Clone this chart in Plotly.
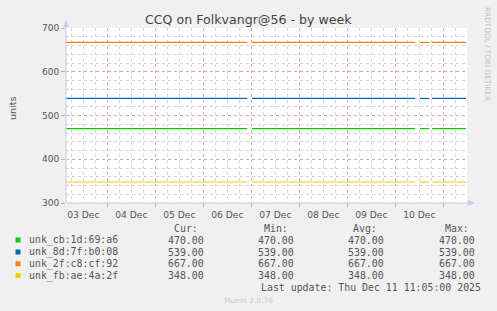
import plotly.graph_objects as go
from datetime import datetime

# ---------------- data ----------------
series_names = ["unk_cb:1d:69:a6", "unk_8d:7f:b0:08", "unk_2f:c8:cf:92", "unk_fb:ae:4a:2f"]
series_values = [470.0, 539.0, 667.0, 348.0]
cur_vals = [470.00, 539.00, 667.00, 348.00]
min_vals = [470.00, 539.00, 667.00, 348.00]
avg_vals = [470.00, 539.00, 667.00, 348.00]
max_vals = [470.00, 539.00, 667.00, 348.00]
series_colors = ["#00cc00", "#0066b3", "#ff8000", "#ffcc00"]

# continuous data segments (gaps in between)
seg_starts = ["2025-12-03 03:20", "2025-12-07 00:20", "2025-12-10 12:20", "2025-12-10 18:20"]
seg_ends = ["2025-12-06 21:50", "2025-12-10 09:50", "2025-12-10 17:00", "2025-12-11 11:20"]

x_start = "2025-12-03 03:20"
x_end = "2025-12-11 11:50"
y_min, y_max = 300, 700

title = "CCQ on Folkvangr@56 - by week"
y_title = "units"
last_update = "Last update: Thu Dec 11 11:05:00 2025"
side_text = "RRDTOOL / TOBI OETIKER"
footer = "Munin 2.0.76"

# ---------------- layout helpers ----------------
W, H = 497, 311
L, R, T, B = 66, 467, 28, 203


def fx(px):
    return (px - L) / (R - L)


def fy(py):
    return (B - py) / (B - T)


fig = go.Figure()

for name, val, col in zip(series_names, series_values, series_colors):
    xs, ys = [], []
    for s, e in zip(seg_starts, seg_ends):
        xs += [s, e, e]
        ys += [val, val, None]
    fig.add_trace(go.Scatter(x=xs, y=ys, mode="lines", name=name,
                             line=dict(color=col, width=1.2),
                             connectgaps=False, showlegend=False,
                             hoverinfo="skip"))

grid_minor = "#d4d4d4"
grid_major = "#eaa5a5"
axis_col = "#c8c8f0"
txt = "#555555"

fig.update_layout(
    width=W, height=H,
    margin=dict(l=L, r=W - R, t=T, b=H - B, pad=0),
    paper_bgcolor="#f0f0f0",
    plot_bgcolor="#ffffff",
    font=dict(family="DejaVu Sans", color=txt, size=9),
    xaxis=dict(
        type="date",
        range=[x_start, x_end],
        tick0="2025-12-01 00:00",
        dtick=86400000,
        tickformat="%d %b",
        ticklabelmode="period",
        showgrid=True, gridcolor=grid_major, griddash="dot", gridwidth=1,
        minor=dict(dtick=6 * 3600000, showgrid=True, gridcolor=grid_minor,
                   griddash="dot", gridwidth=1),
        ticks="outside", ticklen=3, tickcolor=grid_major,
        showline=False, zeroline=False,
        tickfont=dict(family="DejaVu Sans", size=9.2, color=txt),
        fixedrange=True,
    ),
    yaxis=dict(
        range=[y_min, y_max],
        tick0=0, dtick=100,
        showgrid=True, gridcolor=grid_major, griddash="dot", gridwidth=1,
        minor=dict(dtick=20, showgrid=True, gridcolor=grid_minor,
                   griddash="dot", gridwidth=1),
        ticks="outside", ticklen=4, tickcolor="#b0b0b0",
        showline=False, zeroline=False,
        tickfont=dict(family="DejaVu Sans", size=9, color=txt),
        fixedrange=True,
    ),
)

shapes = []
# axis lines with arrows
shapes.append(dict(type="line", xref="paper", yref="paper",
                   x0=fx(L), x1=fx(L), y0=fy(B), y1=fy(23),
                   line=dict(color=axis_col, width=1)))
shapes.append(dict(type="line", xref="paper", yref="paper",
                   x0=fx(L), x1=fx(471), y0=fy(B), y1=fy(B),
                   line=dict(color=axis_col, width=1)))
shapes.append(dict(type="path", xref="paper", yref="paper",
                   path=f"M {fx(L-3)} {fy(27)} L {fx(L+3)} {fy(27)} L {fx(L)} {fy(20)} Z",
                   fillcolor=axis_col, line=dict(width=0)))
shapes.append(dict(type="path", xref="paper", yref="paper",
                   path=f"M {fx(468)} {fy(B-3)} L {fx(468)} {fy(B+3)} L {fx(475)} {fy(B)} Z",
                   fillcolor=axis_col, line=dict(width=0)))

annotations = []
annotations.append(dict(text=title, xref="paper", yref="paper",
                        x=fx(248.5), y=fy(19), xanchor="center", yanchor="middle",
                        showarrow=False,
                        font=dict(family="DejaVu Sans", size=12.6, color="#444444")))
annotations.append(dict(text=y_title, xref="paper", yref="paper",
                        x=fx(12), y=fy(109), xanchor="center", yanchor="middle",
                        textangle=-90, showarrow=False,
                        font=dict(family="DejaVu Sans", size=9.5, color=txt)))
annotations.append(dict(text=side_text, xref="paper", yref="paper",
                        x=fx(488), y=fy(5), xanchor="center", yanchor="top",
                        textangle=90, showarrow=False,
                        font=dict(family="DejaVu Sans", size=7.3, color="#c4c4c4")))
annotations.append(dict(text=footer, xref="paper", yref="paper",
                        x=fx(248), y=fy(300), xanchor="center", yanchor="middle",
                        showarrow=False,
                        font=dict(family="DejaVu Sans", size=7.5, color="#c8c8c8")))

mono = dict(family="DejaVu Sans Mono", size=9.9, color=txt)
header_y = 228
row_y = [240, 252, 263.7, 275.5]
col_right = [206, 296, 386, 477]
header_right = [199.5, 290, 379, 470.5]
headers = ["Cur:", "Min:", "Avg:", "Max:"]
for hx, h in zip(header_right, headers):
    annotations.append(dict(text=h, xref="paper", yref="paper",
                            x=fx(hx), y=fy(header_y), xanchor="right", yanchor="middle",
                            showarrow=False, font=mono))

for i, (name, col) in enumerate(zip(series_names, series_colors)):
    yy = row_y[i]
    shapes.append(dict(type="rect", xref="paper", yref="paper",
                       x0=fx(15.5), x1=fx(20.5), y0=fy(yy + 2.5), y1=fy(yy - 2.5),
                       fillcolor=col, line=dict(width=0)))
    annotations.append(dict(text=name, xref="paper", yref="paper",
                            x=fx(26.5), y=fy(yy), xanchor="left", yanchor="middle",
                            showarrow=False, font=mono))
    for cx, arr in zip(col_right, [cur_vals, min_vals, avg_vals, max_vals]):
        annotations.append(dict(text=f"{arr[i]:.2f}", xref="paper", yref="paper",
                                x=fx(cx), y=fy(yy), xanchor="right", yanchor="middle",
                                showarrow=False, font=mono))

annotations.append(dict(text=last_update, xref="paper", yref="paper",
                        x=fx(482.5), y=fy(287.3), xanchor="right", yanchor="middle",
                        showarrow=False, font=mono))

fig.update_layout(shapes=shapes, annotations=annotations)
fig.write_html("out.html")
